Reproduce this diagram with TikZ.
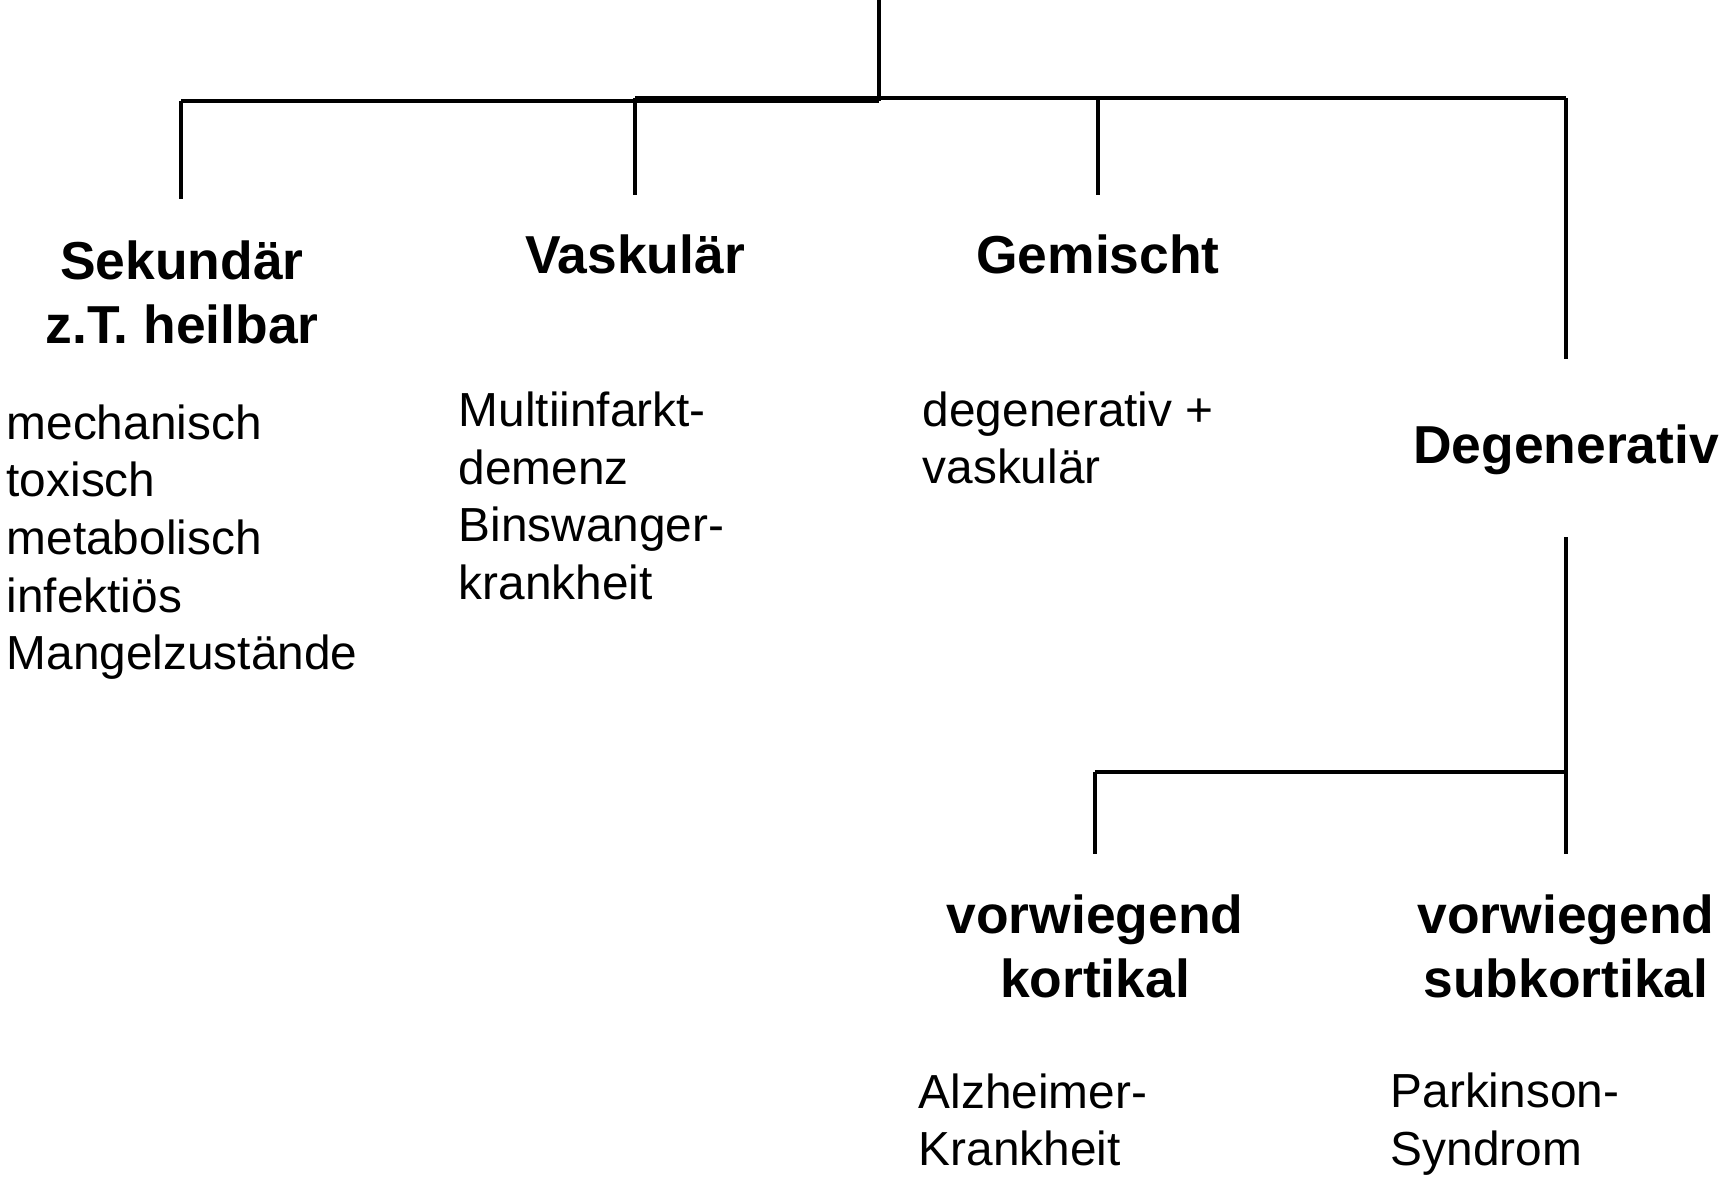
\documentclass[tikz,border=0pt]{standalone}
\usepackage{fontspec}
\setmainfont{Liberation Sans}
\usepackage{tikz}
\usetikzlibrary{positioning}
\tikzset{head node/.style={draw=none,inner sep=0mm,align=center,font=\bfseries\fontsize{15.2}{18.2}\selectfont}}
\tikzset{list node/.style={draw=none,inner sep=0mm,align=left,anchor=west,font=\fontsize{13.6}{16.4}\selectfont}}
\tikzset{branch/.style={line width=0.9pt,black}}

\begin{document}
\begin{tikzpicture}[x=0.1mm,y=-0.1mm]
\useasboundingbox (0,0) rectangle (1722,1176);

% headings
\node[head node](sek) at (182,292){Sekund\"ar\\z.T. heilbar};
\node[head node](vask) at (635,254){Vaskul\"ar};
\node[head node](gem) at (1098,254){Gemischt};
\node[head node](deg) at (1566,450){Degenerativ};
\node[head node](kort) at (1095,946){vorwiegend\\kortikal};
\node[head node](subk) at (1566,946){vorwiegend\\subkortikal};

% lists
\node[list node](l1) at (6,542){mechanisch\\toxisch\\metabolisch\\infekti\"os\\Mangelzust\"ande};
\node[list node](l2) at (458,496){Multiinfarkt-\\demenz\\Binswanger-\\krankheit};
\node[list node](l3) at (922,438){degenerativ +\\vaskul\"ar};
\node[list node](l4) at (918,1120){Alzheimer-\\Krankheit};
\node[list node](l5) at (1390,1124){Parkinson-\\Syndrom};

% tree
\coordinate(root) at (879,0);
\coordinate(j1) at (879,101);
\coordinate(a1) at (181,101);
\coordinate(a2) at (635,98);
\coordinate(a3) at (1098,98);
\coordinate(a4) at (1566,98);
\coordinate(t1) at (181,199);
\coordinate(t2) at (635,195);
\coordinate(t3) at (1098,195);
\coordinate(t4) at (1566,359);
\coordinate(d0) at (1566,537);
\coordinate(d1) at (1566,772);
\coordinate(b1) at (1095,772);
\coordinate(e1) at (1095,854);
\coordinate(e2) at (1566,854);

\draw[branch] (root) -- (j1);
\draw[branch] (a1) -- (j1);
\draw[branch] (a2) -- (a4);
\draw[branch] (a1) -- (t1);
\draw[branch] (a2) -- (t2);
\draw[branch] (a3) -- (t3);
\draw[branch] (a4) -- (t4);

\draw[branch] (d0) -- (e2);
\draw[branch] (b1) -- (d1);
\draw[branch] (b1) -- (e1);
\end{tikzpicture}
\end{document}
